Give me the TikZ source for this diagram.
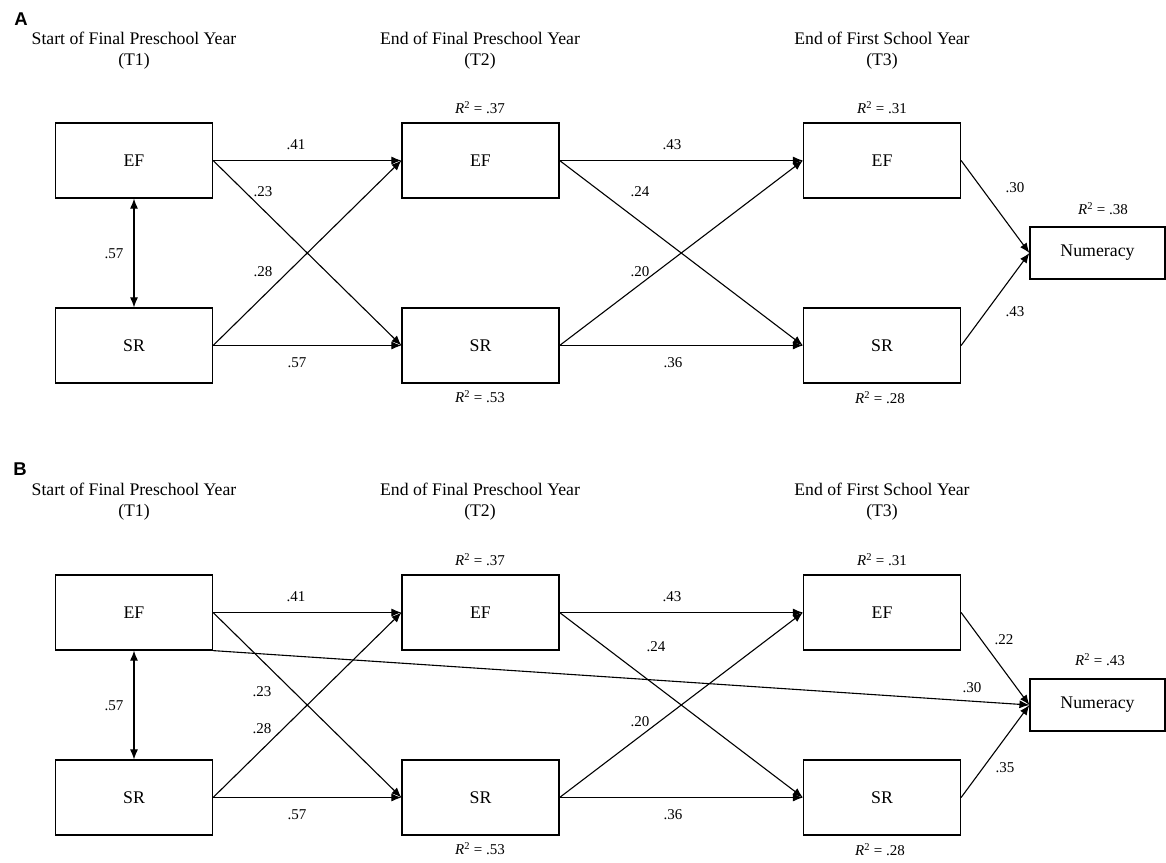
\documentclass[tikz,border=0pt]{standalone}
\usepackage{fontspec}
\setmainfont{Liberation Serif}
\newfontfamily\panelfont{Liberation Sans}
\usetikzlibrary{arrows.meta}
\newcommand{\rsq}[1]{\textit{R}\textsuperscript{2} = #1}
\begin{document}
\begin{tikzpicture}[x=1pt,y=-1pt,
 box/.style={draw, line width=1.2pt, minimum width=157pt, minimum height=75pt, inner sep=0pt, font=\fontsize{17.8}{20}\selectfont},
 numbox/.style={draw, line width=1.2pt, minimum width=135pt, minimum height=52pt, inner sep=0pt, font=\fontsize{17.8}{20}\selectfont},
 hdr/.style={font=\fontsize{17.7}{22}\selectfont, inner sep=0pt},
 lbl/.style={font=\fontsize{15}{18}\selectfont, inner sep=0pt},
 conn/.style={line width=1.1pt, -{Latex[length=10pt,width=8pt]}},
 dconn/.style={line width=1.1pt, {Latex[length=10pt,width=8pt]}-{Latex[length=10pt,width=8pt]}},
 panel/.style={font=\panelfont\bfseries\fontsize{18.5}{20}\selectfont, inner sep=0pt}
]
\useasboundingbox (0,0) rectangle (1166,862);

% ---------- Panel A ----------
\node[panel] (labA) at (21,19) {A};
\node[hdr] (hA1a) at (134,38) {Start of Final Preschool Year};
\node[hdr] (hA1b) at (134,61) {(T1)};
\node[hdr] (hA2a) at (480,38) {End of Final Preschool Year};
\node[hdr] (hA2b) at (480,61) {(T2)};
\node[hdr] (hA3a) at (882,38) {End of First School Year};
\node[hdr] (hA3b) at (882,61) {(T3)};

\node[box] (aEF1) at (134,160.5) {EF};
\node[box] (aSR1) at (134,345.5) {SR};
\node[box] (aEF2) at (480.5,160.5) {EF};
\node[box] (aSR2) at (480.5,345.5) {SR};
\node[box] (aEF3) at (882,160.5) {EF};
\node[box] (aSR3) at (882,345.5) {SR};
\node[numbox] (aNum) at (1097.5,253) {Numeracy};

\node[lbl] (arEF2) at (480,108) {\rsq{.37}};
\node[lbl] (arSR2) at (480,397) {\rsq{.53}};
\node[lbl] (arEF3) at (882,108) {\rsq{.31}};
\node[lbl] (arSR3) at (880,398) {\rsq{.28}};
\node[lbl] (arNum) at (1103,209) {\rsq{.38}};

\draw[dconn] (aEF1.south) -- (aSR1.north);
\draw[conn] (aEF1.east) -- (aEF2.west);
\draw[conn] (aEF1.east) -- (aSR2.west);
\draw[conn] (aSR1.east) -- (aEF2.west);
\draw[conn] (aSR1.east) -- (aSR2.west);
\draw[conn] (aEF2.east) -- (aEF3.west);
\draw[conn] (aEF2.east) -- (aSR3.west);
\draw[conn] (aSR2.east) -- (aEF3.west);
\draw[conn] (aSR2.east) -- (aSR3.west);
\draw[conn] (aEF3.east) -- (aNum.west);
\draw[conn] (aSR3.east) -- (aNum.west);

\node[lbl] (al1) at (114,254) {.57};
\node[lbl] (al2) at (296,145) {.41};
\node[lbl] (al3) at (263,192) {.23};
\node[lbl] (al4) at (263,272) {.28};
\node[lbl] (al5) at (297,363) {.57};
\node[lbl] (al6) at (672,145) {.43};
\node[lbl] (al7) at (640,192) {.24};
\node[lbl] (al8) at (640,272) {.20};
\node[lbl] (al9) at (673,363) {.36};
\node[lbl] (al10) at (1015,188) {.30};
\node[lbl] (al11) at (1015,312) {.43};

% ---------- Panel B ----------
\node[panel] (labB) at (20,469) {B};
\node[hdr] (hB1a) at (134,489) {Start of Final Preschool Year};
\node[hdr] (hB1b) at (134,512) {(T1)};
\node[hdr] (hB2a) at (480,489) {End of Final Preschool Year};
\node[hdr] (hB2b) at (480,512) {(T2)};
\node[hdr] (hB3a) at (882,489) {End of First School Year};
\node[hdr] (hB3b) at (882,512) {(T3)};

\node[box] (bEF1) at (134,612.5) {EF};
\node[box] (bSR1) at (134,797.5) {SR};
\node[box] (bEF2) at (480.5,612.5) {EF};
\node[box] (bSR2) at (480.5,797.5) {SR};
\node[box] (bEF3) at (882,612.5) {EF};
\node[box] (bSR3) at (882,797.5) {SR};
\node[numbox] (bNum) at (1097.5,705) {Numeracy};

\node[lbl] (brEF2) at (480,560) {\rsq{.37}};
\node[lbl] (brSR2) at (480,849) {\rsq{.53}};
\node[lbl] (brEF3) at (882,560) {\rsq{.31}};
\node[lbl] (brSR3) at (880,850) {\rsq{.28}};
\node[lbl] (brNum) at (1100,660) {\rsq{.43}};

\draw[dconn] (bEF1.south) -- (bSR1.north);
\draw[conn] (bEF1.east) -- (bEF2.west);
\draw[conn] (bEF1.east) -- (bSR2.west);
\draw[conn] (bSR1.east) -- (bEF2.west);
\draw[conn] (bSR1.east) -- (bSR2.west);
\draw[conn] (bEF2.east) -- (bEF3.west);
\draw[conn] (bEF2.east) -- (bSR3.west);
\draw[conn] (bSR2.east) -- (bEF3.west);
\draw[conn] (bSR2.east) -- (bSR3.west);
\draw[conn] (bEF3.east) -- (bNum.west);
\draw[conn] (bSR3.east) -- (bNum.west);
\draw[conn] (bEF1.south east) -- (bNum.west);

\node[lbl] (bl1) at (114,706) {.57};
\node[lbl] (bl2) at (296,597) {.41};
\node[lbl] (bl3) at (262,692) {.23};
\node[lbl] (bl4) at (262,729) {.28};
\node[lbl] (bl5) at (297,815) {.57};
\node[lbl] (bl6) at (672,597) {.43};
\node[lbl] (bl7) at (656,647) {.24};
\node[lbl] (bl8) at (640,722) {.20};
\node[lbl] (bl9) at (673,815) {.36};
\node[lbl] (bl10) at (1004,640) {.22};
\node[lbl] (bl11) at (972,688) {.30};
\node[lbl] (bl12) at (1005,768) {.35};
\end{tikzpicture}
\end{document}
